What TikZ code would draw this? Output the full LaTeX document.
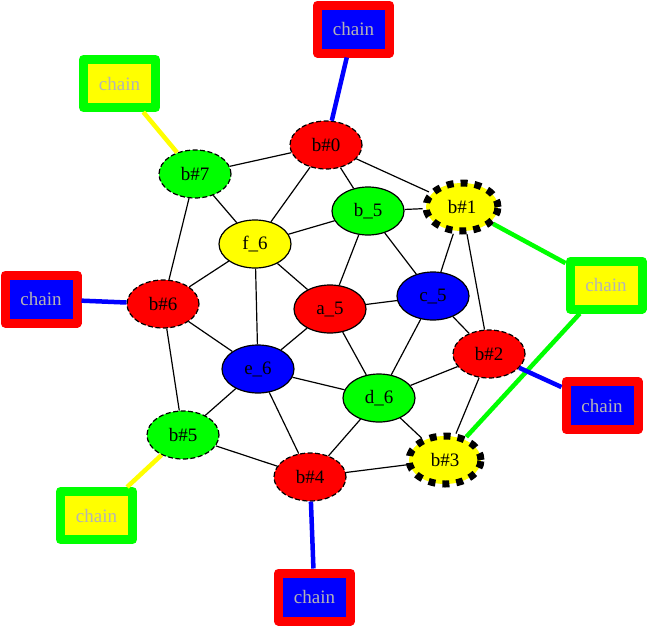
\documentclass[tikz,border=0pt]{standalone}
\usepackage{fontspec}
\setmainfont{Liberation Serif}
\usetikzlibrary{shapes.geometric}
\definecolor{gvred}{RGB}{255,0,0}
\definecolor{gvblue}{RGB}{0,0,255}
\definecolor{gvgreen}{RGB}{0,255,0}
\definecolor{gvyellow}{RGB}{255,255,0}
\definecolor{chaintext}{RGB}{180,180,180}
\tikzset{
  gvnode/.style={ellipse, minimum width=72pt, minimum height=48pt, inner sep=0pt,
    font=\fontsize{19}{22}\selectfont, draw=black, line width=1.2pt},
  solidnode/.style={gvnode},
  thindash/.style={gvnode, dash pattern=on 5pt off 2.5pt},
  thickdash/.style={gvnode, line width=7pt, dash pattern=on 7pt off 7pt},
  chainbox/.style={rectangle, minimum width=72pt, minimum height=48pt, inner sep=0pt,
    line width=9pt, line join=round, font=\fontsize{19}{22}\selectfont, text=chaintext},
  redchain/.style={chainbox, draw=gvred, fill=gvblue},
  greenchain/.style={chainbox, draw=gvgreen, fill=gvyellow},
  link/.style={draw=black, line width=1.2pt},
  chainlink/.style={line width=4.5pt},
}
\begin{document}
\begin{tikzpicture}[x=1pt,y=-1pt]
\useasboundingbox (0,0) rectangle (647,627);
% nodes
\node[thindash, fill=gvred]    (b0) at (326,145) {b\#0};
\node[thickdash, fill=gvyellow](b1) at (462,207) {b\#1};
\node[thindash, fill=gvred]    (b2) at (489,354) {b\#2};
\node[thickdash, fill=gvyellow](b3) at (445,460) {b\#3};
\node[thindash, fill=gvred]    (b4) at (310,477) {b\#4};
\node[thindash, fill=gvgreen]  (b5) at (183,435) {b\#5};
\node[thindash, fill=gvred]    (b6) at (163,304) {b\#6};
\node[thindash, fill=gvgreen]  (b7) at (195,174) {b\#7};
\node[solidnode, fill=gvred]   (a5) at (330,309) {a\_5};
\node[solidnode, fill=gvgreen] (bb5) at (368,211) {b\_5};
\node[solidnode, fill=gvblue]  (c5) at (433,296) {c\_5};
\node[solidnode, fill=gvgreen] (d6) at (379,398) {d\_6};
\node[solidnode, fill=gvblue]  (e6) at (258,369) {e\_6};
\node[solidnode, fill=gvyellow](f6) at (255,244) {f\_6};
% chain boxes
\node[redchain]   (ch0) at (353.5,29)   {chain};
\node[greenchain] (ch7) at (119.5,83.5) {chain};
\node[redchain]   (ch6) at (41,299)     {chain};
\node[greenchain] (ch1) at (606,285)    {chain};
\node[redchain]   (ch2) at (602,405.5)  {chain};
\node[greenchain] (ch5) at (96.5,515.5) {chain};
\node[redchain]   (ch4) at (314.5,597)  {chain};
% black edges
\draw[link] (b0) -- (b7);
\draw[link] (b0) -- (f6);
\draw[link] (b0) -- (bb5);
\draw[link] (b0) -- (b1);
\draw[link] (b1) -- (bb5);
\draw[link] (b1) -- (c5);
\draw[link] (b1) -- (b2);
\draw[link] (b2) -- (c5);
\draw[link] (b2) -- (d6);
\draw[link] (b2) -- (b3);
\draw[link] (b3) -- (d6);
\draw[link] (b3) -- (b4);
\draw[link] (b4) -- (d6);
\draw[link] (b4) -- (e6);
\draw[link] (b4) -- (b5);
\draw[link] (b5) -- (e6);
\draw[link] (b5) -- (b6);
\draw[link] (b6) -- (e6);
\draw[link] (b6) -- (f6);
\draw[link] (b6) -- (b7);
\draw[link] (b7) -- (f6);
\draw[link] (f6) -- (bb5);
\draw[link] (f6) -- (a5);
\draw[link] (f6) -- (e6);
\draw[link] (bb5) -- (a5);
\draw[link] (bb5) -- (c5);
\draw[link] (a5) -- (c5);
\draw[link] (a5) -- (d6);
\draw[link] (a5) -- (e6);
\draw[link] (c5) -- (d6);
\draw[link] (e6) -- (d6);
% chain edges
\draw[chainlink, gvblue]   (ch0) -- (b0);
\draw[chainlink, gvyellow] (ch7) -- (b7);
\draw[chainlink, gvblue]   (ch6) -- (b6);
\draw[chainlink, gvgreen]  (ch1) -- (b1);
\draw[chainlink, gvgreen]  (ch1) -- (b3);
\draw[chainlink, gvblue]   (ch2) -- (b2);
\draw[chainlink, gvyellow] (ch5) -- (b5);
\draw[chainlink, gvblue]   (ch4) -- (b4);
\end{tikzpicture}
\end{document}
